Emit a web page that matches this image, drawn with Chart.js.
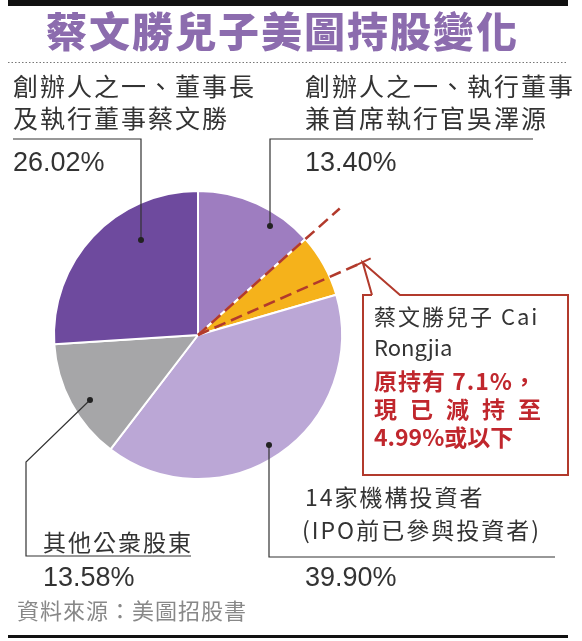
<!DOCTYPE html>
<html><head><meta charset="utf-8">
<script src="https://cdn.jsdelivr.net/npm/chart.js@4"></script>
<style>
body{margin:0;background:#fff;font-family:"Noto Sans CJK TC","Noto Sans",sans-serif;}
#wrap{position:relative;width:582px;height:641px;overflow:hidden;}
canvas{position:absolute;left:0;top:0;}
.t{position:absolute;color:#333;white-space:nowrap;line-height:1;}
.lab{font-size:25px;letter-spacing:2px;}
.pct{font-size:27px;font-family:"Liberation Sans",Arial,sans-serif;}
.red{color:#c0272d;font-weight:bold;font-size:23px;}
</style></head><body>
<div id="wrap">
<canvas id="c" width="582" height="641"></canvas>
<div class="t" style="left:46px;top:9px;font-size:41px;font-weight:900;color:#8c6cae;letter-spacing:2px;">蔡文勝兒子美圖持股變化</div>
<div class="t lab" style="left:13px;top:73px;">創辦人之一、董事長</div>
<div class="t lab" style="left:13px;top:105px;">及執行董事蔡文勝</div>
<div class="t pct" style="left:13px;top:149px;">26.02%</div>
<div class="t lab" style="left:305px;top:73px;">創辦人之一、執行董事</div>
<div class="t lab" style="left:305px;top:105px;">兼首席執行官吳澤源</div>
<div class="t pct" style="left:305px;top:149px;">13.40%</div>
<div class="t" style="left:374px;top:304px;font-size:22px;letter-spacing:2px;">蔡文勝兒子 Cai</div>
<div class="t" style="left:374px;top:335px;font-size:22px;">Rongjia</div>
<div class="t red" style="left:374px;top:369px;letter-spacing:1px;">原持有 7.1%，</div>
<div class="t red" style="left:374px;top:397px;letter-spacing:13px;">現已減持至</div>
<div class="t red" style="left:374px;top:425px;">4.99%或以下</div>
<div class="t lab" style="left:305px;top:485px;font-size:23px;">14家機構投資者</div>
<div class="t lab" style="left:302px;top:518px;font-size:23px;">(IPO前已參與投資者)</div>
<div class="t pct" style="left:305px;top:564px;">39.90%</div>
<div class="t lab" style="left:43px;top:530px;font-size:23px;">其他公衆股東</div>
<div class="t pct" style="left:43px;top:564px;">13.58%</div>
<div class="t" style="left:17px;top:598px;font-size:22px;color:#888;letter-spacing:1px;">資料來源：美圖招股書</div>
</div>
<script>
const categories = ["吳澤源","蔡榮嘉","14家機構投資者","其他公衆股東","蔡文勝"];
const shares = [13.40, 7.1, 39.90, 13.58, 26.02];
const currentStake = 4.99;
const colors = ["#9e7dc0","#f5b21b","#bba7d6","#a6a6a8","#6e4a9e"];

const overlay = {
  id:'overlay',
  afterDraw(chart){
    const ctx = chart.ctx;
    const arcs = chart.getDatasetMeta(0).data;
    const o = arcs[1];
    const cx=o.x, cy=o.y;
    ctx.save();
    ctx.fillStyle='#111';
    ctx.fillRect(8,0,560,6);
    ctx.fillRect(8,635,560,3);
    ctx.strokeStyle='#777';ctx.lineWidth=1;ctx.setLineDash([1.5,2]);
    ctx.beginPath();ctx.moveTo(8,62.5);ctx.lineTo(568,62.5);ctx.stroke();
    ctx.setLineDash([]);
    ctx.strokeStyle='#333';ctx.lineWidth=1.2;
    const poly=(pts)=>{ctx.beginPath();ctx.moveTo(pts[0][0],pts[0][1]);for(const p of pts.slice(1))ctx.lineTo(p[0],p[1]);ctx.stroke();};
    poly([[13,139],[141,139],[141,240]]);
    poly([[533,139],[270,139],[270,226]]);
    poly([[90,400],[26,462],[26,556],[191,556]]);
    poly([[269,445],[269,557],[555,557]]);
    ctx.fillStyle='#222';
    for(const d of [[141,240],[270,226],[90,400],[269,445]]){ctx.beginPath();ctx.arc(d[0],d[1],3,0,Math.PI*2);ctx.fill();}
    const a1=o.startAngle;
    const a2=o.startAngle+(o.endAngle-o.startAngle)*currentStake/shares[1];
    ctx.strokeStyle='#b23a2c';ctx.lineWidth=2.6;ctx.setLineDash([12,6]);
    ctx.beginPath();ctx.moveTo(cx,cy);ctx.lineTo(cx+Math.cos(a1)*190,cy+Math.sin(a1)*190);ctx.stroke();
    ctx.beginPath();ctx.moveTo(cx,cy);ctx.lineTo(cx+Math.cos(a2)*180,cy+Math.sin(a2)*180);ctx.stroke();
    ctx.setLineDash([]);
    const tx=cx+Math.cos(a2)*180, ty=cy+Math.sin(a2)*180;
    ctx.strokeStyle='#b23a2c';ctx.lineWidth=2;
    ctx.beginPath();ctx.moveTo(tx-7,ty+3);ctx.lineTo(tx+8,ty-4);ctx.stroke();
    ctx.beginPath();
    ctx.moveTo(372,295);ctx.lineTo(tx,ty);ctx.lineTo(400,295);ctx.lineTo(568,295);ctx.lineTo(568,475);
    ctx.lineTo(363,475);ctx.lineTo(363,295);ctx.lineTo(372,295);ctx.stroke();
    ctx.restore();
  }
};
new Chart(document.getElementById('c'),{
  type:'pie',
  data:{labels:categories,datasets:[{data:shares,backgroundColor:colors,borderColor:'#fff',borderWidth:2}]},
  options:{responsive:false,animation:false,
    layout:{padding:{left:53,right:239,top:190,bottom:161}},
    plugins:{legend:{display:false},tooltip:{enabled:false}}},
  plugins:[overlay]
});
</script>
</body></html>
